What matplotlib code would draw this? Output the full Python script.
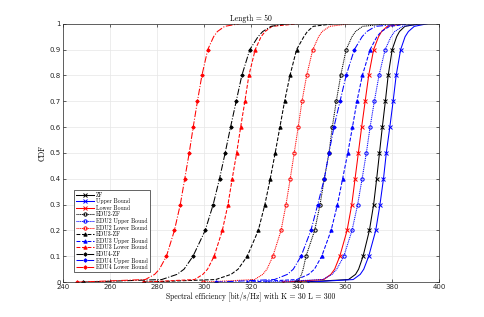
import numpy as np
import matplotlib
matplotlib.use("Agg")
import matplotlib.pyplot as plt

levels = [0, 0.01, 0.03, 0.05, 0.1, 0.2, 0.3, 0.4, 0.5, 0.6, 0.7, 0.8, 0.9,
          0.95, 0.97, 0.99, 1.0]
marker_idx = [0, 4, 5, 6, 7, 8, 9, 10, 11, 12]

# spectral efficiency [bit/s/Hz] at each level
zf       = [341.0, 361.5, 364.5, 365.8, 367.7, 370.4, 372.2, 373.5, 374.7, 375.9, 377.2, 378.4, 380.1, 382.0, 383.2, 385.5, 392.0]
ub       = [344.4, 363.5, 366.5, 368.0, 370.1, 373.1, 374.9, 376.4, 377.6, 379.1, 380.5, 381.8, 383.7, 385.6, 387.0, 389.5, 395.0]
lb       = [333.5, 351.0, 354.0, 355.6, 357.8, 360.9, 362.9, 364.3, 365.7, 367.1, 368.6, 370.1, 372.2, 374.3, 375.6, 378.0, 385.0]
edu2_zf  = [339.3, 340.5, 341.5, 342.2, 343.4, 347.1, 349.4, 351.2, 353.2, 354.6, 356.3, 358.2, 360.5, 363.0, 364.5, 367.5, 378.0]
edu2_ub  = [327.0, 350.5, 354.5, 356.5, 359.5, 363.0, 365.4, 367.3, 369.1, 370.7, 372.5, 374.5, 377.1, 379.6, 381.2, 384.5, 393.0]
edu2_lb  = [299.7, 321.5, 325.0, 326.8, 329.3, 332.8, 334.9, 336.7, 338.4, 340.1, 341.7, 343.7, 346.3, 348.8, 350.3, 353.5, 362.0]
edu3_zf  = [274.5, 305.0, 311.5, 314.5, 318.4, 323.1, 325.9, 328.2, 330.3, 332.3, 334.3, 336.6, 339.4, 342.5, 344.0, 346.5, 355.0]
edu3_ub  = [318.1, 339.5, 344.5, 347.0, 350.1, 354.1, 356.8, 359.0, 361.2, 363.2, 365.1, 367.4, 370.7, 373.6, 375.5, 379.0, 388.0]
edu3_lb  = [274.0, 296.0, 299.5, 301.5, 304.3, 307.8, 310.2, 312.0, 313.9, 315.6, 317.4, 319.1, 321.8, 324.3, 326.0, 329.0, 340.0]
edu4_zf  = [248.5, 282.0, 288.5, 291.5, 295.3, 300.5, 303.9, 306.6, 309.0, 311.3, 313.7, 316.1, 319.5, 323.0, 325.0, 328.5, 335.0]
edu4_ub  = [305.1, 330.0, 335.5, 338.0, 341.3, 345.5, 348.4, 351.2, 353.2, 355.3, 357.9, 360.5, 364.0, 367.3, 369.3, 373.0, 385.0]
edu4_lb  = [246.0, 275.0, 279.0, 281.0, 284.0, 287.4, 289.9, 291.8, 293.7, 295.4, 297.2, 299.1, 301.6, 304.1, 305.7, 308.8, 315.0]

dotted = (0, (1, 0.8))
curves = [
    (zf,      'k', '-',    'x', 'ZF'),
    (ub,      'b', '-',    'x', 'Upper Bound'),
    (lb,      'r', '-',    'x', 'Lower Bound'),
    (edu2_zf, 'k', dotted, 'o', 'EDU2-ZF'),
    (edu2_ub, 'b', dotted, 'o', 'EDU2 Upper Bound'),
    (edu2_lb, 'r', dotted, 'o', 'EDU2 Lower Bound'),
    (edu3_zf, 'k', '--',   '^', 'EDU3-ZF'),
    (edu3_ub, 'b', '--',   '^', 'EDU3 Upper Bound'),
    (edu3_lb, 'r', '--',   '^', 'EDU3 Lower Bound'),
    (edu4_zf, 'k', '-.',   'D', 'EDU4-ZF'),
    (edu4_ub, 'b', '-.',   'D', 'EDU4 Upper Bound'),
    (edu4_lb, 'r', '-.',   'D', 'EDU4 Lower Bound'),
]

serif = ['cmr10', 'DejaVu Serif']
plt.rcParams['axes.unicode_minus'] = False

fig = plt.figure(figsize=(4.85, 3.17), dpi=100)
ax = fig.add_axes([0.13, 0.11, 0.775, 0.815])

for x, c, ls, m, name in curves:
    face = 'none' if m in ('o', 'x') else c
    ms = {'x': 2.6, 'o': 2.4, '^': 2.4, 'D': 1.8}[m]
    ax.plot(x, levels, color=c, linestyle=ls, linewidth=0.75, marker=m,
            markevery=marker_idx, markersize=ms, markerfacecolor=face,
            markeredgewidth=0.7, label=name)

ax.set_xlim(240, 400)
ax.set_ylim(0, 1)
ax.set_xticks(np.arange(240, 401, 20))
ax.set_yticks(np.arange(0, 1.01, 0.1))
ax.set_yticklabels(['0'] + ['%.1f' % v for v in np.arange(0.1, 0.95, 0.1)] + ['1'])
ax.tick_params(direction='in', labelsize=5, length=2.5, width=0.5,
               colors='#262626', top=True, right=True, pad=1.5)
ax.grid(True, color='#e6e6e6', linewidth=0.5)
ax.set_axisbelow(True)
for s in ax.spines.values():
    s.set_linewidth(0.5)
    s.set_color('#262626')

ax.set_title('Length = 50', fontsize=5.5, family=serif, pad=2)
ax.set_xlabel('Spectral efficiency [bit/s/Hz] with K = 30 L = 300',
              fontsize=5.5, family=serif, labelpad=1)
ax.set_ylabel('CDF', fontsize=5.5, family=serif, labelpad=2)

leg = ax.legend(loc='lower left', bbox_to_anchor=(0.03, 0.04),
                prop={'family': serif, 'size': 4.2}, frameon=True,
                fancybox=False, edgecolor='#262626', framealpha=1,
                handlelength=3.0, handletextpad=0.4, labelspacing=0.12,
                borderpad=0.3, borderaxespad=0)
leg.get_frame().set_linewidth(0.5)

fig.savefig('out.png', dpi=100)
